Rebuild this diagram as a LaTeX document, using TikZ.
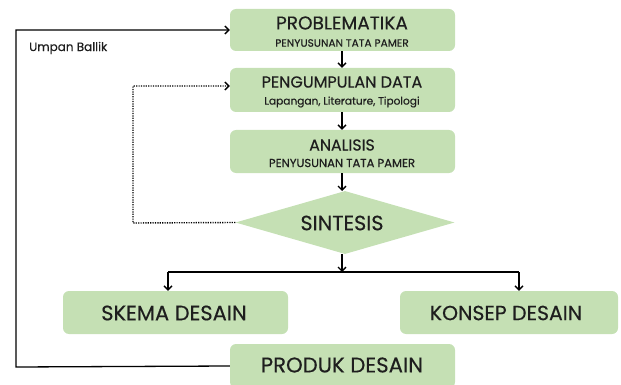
\documentclass[tikz,border=0pt]{standalone}
\usepackage{fontspec}
\setmainfont{Poppins}[FakeBold=0.4]
\usetikzlibrary{shapes.geometric,arrows.meta}
\definecolor{boxgreen}{HTML}{C5E0B4}
\definecolor{txt}{HTML}{1E1E1E}
\tikzset{
  box/.style={rectangle,rounded corners=6pt,fill=boxgreen,draw=none,inner sep=0pt},
  lbl/.style={inner sep=0pt,text=txt,anchor=center},
  tip/.style={-{Straight Barb[length=4pt,width=8pt,line width=1.3pt]}},
  flow/.style={line width=1.3pt,tip},
  plain/.style={line width=1.3pt},
  dots/.style={line width=1.4pt,dash pattern=on 1.2pt off 1.2pt},
}
\begin{document}
\begin{tikzpicture}[x=1pt,y=-1pt]
\useasboundingbox (0,0) rectangle (621,385);
% boxes
\node[box,minimum width=225pt,minimum height=42pt] (p1) at (342.5,30) {};
\node[box,minimum width=225pt,minimum height=44pt] (p2) at (342.5,90) {};
\node[box,minimum width=225pt,minimum height=43pt] (p3) at (342.5,151.5) {};
\node[diamond,fill=boxgreen,draw=none,inner sep=0pt,minimum width=219pt,minimum height=63pt,aspect=3.47] (sin) at (345,222.5) {};
\node[box,minimum width=225pt,minimum height=43pt] (ske) at (175.5,312.5) {};
\node[box,minimum width=218pt,minimum height=43pt] (kon) at (509,312.5) {};
\node[box,minimum width=225pt,minimum height=44pt] (prod) at (342.5,366) {};
% texts
\node[lbl] (p1t) at (342,23) {\fontsize{18.5}{18.5}\selectfont PROBLEMATIKA};
\node[lbl] (p1s) at (342,43) {\fontsize{10.6}{11}\selectfont PENYUSUNAN TATA PAMER};
\node[lbl] (p2t) at (342,82) {\fontsize{16}{16}\selectfont PENGUMPULAN DATA};
\node[lbl] (p2s) at (342,102) {\fontsize{10.6}{11}\selectfont Lapangan, Literature, Tipologi};
\node[lbl] (p3t) at (342,145) {\fontsize{15.8}{16}\selectfont ANALISIS};
\node[lbl] (p3s) at (342,163) {\fontsize{11.6}{12}\selectfont PENYUSUNAN TATA PAMER};
\node[lbl] (sint) at (342,223) {\fontsize{20.7}{21}\selectfont SINTESIS};
\node[lbl] (sket) at (174,313) {\fontsize{21}{21}\selectfont SKEMA DESAIN};
\node[lbl] (kont) at (506,313) {\fontsize{20.4}{21}\selectfont KONSEP DESAIN};
\node[lbl] (prodt) at (342,365) {\fontsize{21.2}{21}\selectfont PRODUK DESAIN};
\node[lbl,anchor=west] (ump) at (29,48) {\fontsize{12}{12}\selectfont Umpan Ballik};
% coordinates
\coordinate (junc) at (342,272);
\coordinate (jL) at (168,272);
\coordinate (jR) at (519,272);
\coordinate (fbL) at (16,367);
\coordinate (dL) at (133,223);
\coordinate (p2in) at (p2.west |- 0,86);
\coordinate (p3bot) at (342,191);
% connectors
\draw[flow] (p1.south -| junc) -- (p2.north -| junc);
\draw[flow] (p2.south -| junc) -- (p3.north -| junc);
\draw[flow] (p3.south -| junc) -- (p3bot);
\draw[flow] (sin.south -| junc) -- (junc);
\draw[plain] (jL) -- (jR);
\draw[flow] (jL) -- (jL |- ske.north);
\draw[flow] (jR) -- (jR |- kon.north);
\draw[flow] (prod.west) -- (fbL) |- (p1.west);
\draw[dots,tip] (sin.west) -- (dL) |- (p2in);
\end{tikzpicture}
\end{document}
